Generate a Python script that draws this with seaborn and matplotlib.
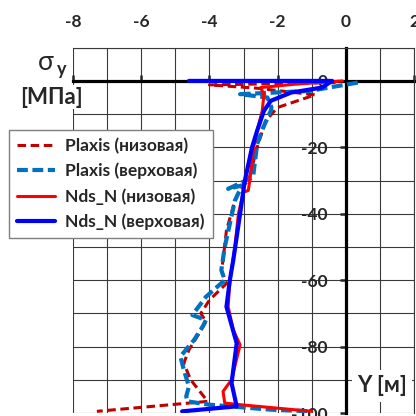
import numpy as np
import pandas as pd
import seaborn as sns
import matplotlib.pyplot as plt

sns.set_style("white")
plt.rcParams['font.family'] = ['Lato', 'Noto Sans', 'DejaVu Sans']

# Plaxis (низовая)
plaxis_low_x = [-0.3, -4.0, -2.6, -0.9, -2.0, -2.35, -2.6, -2.85, -3.06, -3.25, -3.5, -3.6, -3.65,
                -3.5, -4.0, -4.25, -4.1, -4.3, -4.6, -4.75, -4.55, -4.05, -7.3]
plaxis_low_y = [-0.5, -1.2, -2.2, -4.2, -8, -12, -20, -30, -32, -36, -45, -54, -57,
                -61, -66, -70, -72.5, -76, -81, -85, -90, -96.5, -99.5]

# Plaxis (верховая)
plaxis_up_x = [0.35, -1.05, -3.1, -2.3, -2.18, -2.2, -2.42, -2.6, -2.72, -3.45, -3.05, -3.25, -3.55,
               -3.65, -3.55, -4.1, -4.5, -4.1, -4.2, -4.45, -4.85, -4.75, -4.6, -4.68, -4.64,
               -4.0, -2.2, -1.0]
plaxis_up_y = [-0.5, -3, -4, -5, -8, -9, -14, -19, -29, -32.5, -31.5, -36, -50,
               -57, -60, -65, -70.5, -72, -74, -78, -83, -87, -92, -95, -96.5,
               -97.5, -99, -99.5]

# Nds_N (низовая)
nds_low_x = [-0.1, -1.5, -2.5, -2.4, -2.45, -2.6, -2.7, -2.81, -2.86, -3.0, -3.15, -3.25, -3.4,
             -3.45, -3.3, -3.1, -3.35, -3.6, -3.55, -3.1, -1.0]
nds_low_y = [0, -1, -2, -4, -9, -15, -20, -29.5, -33, -33.5, -40, -50, -60,
             -68, -75, -79.5, -90, -93.5, -97, -97.5, -99.5]

# Nds_N (верховая)
nds_up_x = [-4.6, -0.4, -0.7, -1.6, -2.2, -2.4, -2.6, -2.75, -2.96, -3.1, -3.3, -3.4, -3.5,
            -3.2, -3.35, -3.2, -4.8]
nds_up_y = [0, 0, -2, -3.5, -6, -9, -15, -20, -30, -40, -54, -60, -68,
            -79, -91, -98, -99.5]

x_ticks = [-8, -6, -4, -2, 0, 2]
y_ticks = [-100, -80, -60, -40, -20, 0]

fig = plt.figure(figsize=(4.16, 4.16), dpi=100)
ax = fig.add_axes([73 / 416, 3 / 416, 341 / 416, 365.3 / 416])
ax.set_xlim(-8, 2)
ax.set_ylim(-100, 10)

# grid (drawn manually so it stays under the curves)
for gx in np.arange(-8, 2.01, 1):
    ax.axvline(gx, color='#3a3a3a', lw=0.8, zorder=0.5)
for gy in np.arange(-100, 10.01, 10):
    ax.axhline(gy, color='#3a3a3a', lw=0.8, zorder=0.5)

series = [
    (plaxis_low_x, plaxis_low_y, 'Plaxis (низовая)', '#C00000', 2.2, (2.8, 1.5)),
    (plaxis_up_x, plaxis_up_y, 'Plaxis (верховая)', '#0070C0', 3.0, (2.6, 1.1)),
    (nds_low_x, nds_low_y, 'Nds_N (низовая)', '#FF0000', 2.2, None),
    (nds_up_x, nds_up_y, 'Nds_N (верховая)', '#0000FF', 3.0, None),
]
for xs, ys, lab, col, lw, dash in series:
    df = pd.DataFrame({'x': xs, 'y': ys})
    sns.lineplot(data=df, x='x', y='y', sort=False, estimator=None, color=col,
                 lw=lw, label=lab, ax=ax, zorder=2)
    if dash is not None:
        ax.lines[-1].set_dashes(dash)

ax.set_xlabel('')
ax.set_ylabel('')

for s in ['left', 'bottom']:
    ax.spines[s].set_position(('data', 0))
    ax.spines[s].set_linewidth(2.3)
    ax.spines[s].set_color('black')
    ax.spines[s].set_zorder(1.5)
for s in ['top', 'right']:
    ax.spines[s].set_linewidth(0.8)
    ax.spines[s].set_color('#3a3a3a')

ax.set_xticks(x_ticks)
ax.set_yticks(y_ticks)
ax.set_xticklabels([str(v) for v in x_ticks], fontweight='bold')
ax.set_yticklabels([str(v) for v in y_ticks], fontweight='bold')
ax.tick_params(axis='x', which='major', top=False, labeltop=True, bottom=True, labelbottom=False,
               direction='in', length=4, width=1.8, pad=13, labelsize=12.5)
ax.tick_params(axis='y', which='major', left=True, labelleft=True, right=False,
               direction='out', length=4, width=1.8, pad=9, labelsize=12.5)

leg = ax.legend(loc='upper left', bbox_to_anchor=(9 / 416, 1 - 130 / 416),
                bbox_transform=fig.transFigure, borderaxespad=0, fancybox=False,
                edgecolor='#7f7f7f', framealpha=1, handlelength=2.2,
                prop={'weight': 'bold', 'size': 12.5}, labelspacing=0.5,
                borderpad=0.45, handletextpad=0.6)
leg.get_frame().set_linewidth(1.0)

fig.text(46 / 416, 1 - 62 / 416, 'σ', fontsize=19, ha='center', va='center')
fig.text(62 / 416, 1 - 70 / 416, 'y', fontsize=13, fontweight='bold', ha='center', va='center')
fig.text(51 / 416, 1 - 97 / 416, '[МПа]', fontsize=16, fontweight='bold', ha='center', va='center',
         bbox=dict(facecolor='white', edgecolor='none', pad=1))
fig.text(382 / 416, 1 - 386 / 416, 'Y [м]', fontsize=16, fontweight='bold', ha='center', va='center',
         bbox=dict(facecolor='white', edgecolor='none', pad=4))

fig.savefig('out.png', dpi=100)
